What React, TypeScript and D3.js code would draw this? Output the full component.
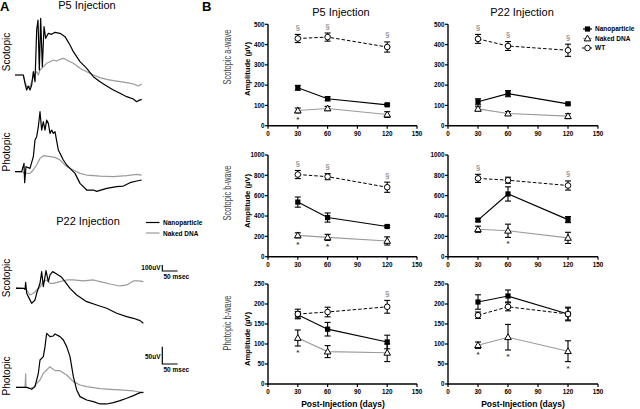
import React from "react";
import * as d3 from "d3";

const FONT = "Arial, 'Liberation Sans', Helvetica, sans-serif";
const GREY = "#9a9a9a";

// ---------- Panel B data ----------
const days = [30, 60, 120];
const xTicks = [0, 30, 60, 90, 120, 150];
const yTicksA = [0, 100, 200, 300, 400, 500];
const yTicksB = [0, 200, 400, 600, 800, 1000];
const yTicksP = [0, 50, 100, 150, 200, 250];

// P5 scotopic a-wave
const p5aNano = [187, 133, 103];
const p5aNanoErr = [12, 10, 5];
const p5aNaked = [75, 85, 55];
const p5aNakedErr = [12, 10, 14];
const p5aWT = [430, 437, 388];
const p5aWTErr = [20, 20, 25];
const p5aSect = [1, 1, 1];
const p5aStar = [1, 0, 0];

// P22 scotopic a-wave
const p22aNano = [118, 158, 108];
const p22aNanoErr = [15, 15, 5];
const p22aNaked = [83, 60, 47];
const p22aNakedErr = [10, 10, 12];
const p22aWT = [428, 393, 372];
const p22aWTErr = [22, 22, 30];
const p22aSect = [1, 1, 1];
const p22aStar = [0, 0, 0];

// P5 scotopic b-wave
const p5bNano = [537, 385, 297];
const p5bNanoErr = [50, 45, 10];
const p5bNaked = [210, 190, 155];
const p5bNakedErr = [25, 30, 40];
const p5bWT = [808, 787, 683];
const p5bWTErr = [40, 30, 50];
const p5bSect = [1, 1, 1];
const p5bStar = [1, 1, 0];

// P22 scotopic b-wave
const p22bNano = [360, 617, 365];
const p22bNanoErr = [15, 70, 30];
const p22bNaked = [270, 255, 185];
const p22bNakedErr = [30, 65, 55];
const p22bWT = [770, 752, 700];
const p22bWTErr = [40, 30, 45];
const p22bSect = [1, 0, 1];
const p22bStar = [0, 1, 0];

// P5 photopic b-wave
const p5pNano = [173, 137, 105];
const p5pNanoErr = [8, 17, 17];
const p5pNaked = [115, 81, 78];
const p5pNakedErr = [20, 15, 22];
const p5pWT = [175, 180, 193];
const p5pWTErr = [12, 12, 16];
const p5pSect = [0, 0, 1];
const p5pStar = [1, 0, 0];

// P22 photopic b-wave
const p22pNano = [205, 220, 175];
const p22pNanoErr = [18, 15, 17];
const p22pNaked = [97, 117, 82];
const p22pNakedErr = [8, 32, 26];
const p22pWT = [172, 193, 175];
const p22pWTErr = [8, 10, 15];
const p22pSect = [0, 0, 0];
const p22pStar = [1, 1, 1];

// ---------- Panel A traces: [sample, amplitude] ----------
const p5ScotNano = [[0,0],[25,0],[30,-25],[35,-45],[40,-33],[45,-45],[50,-30],[55,10],[60,-20],[65,135],[69,165],[73,15],[77,170],[82,25],[87,145],[92,110],[100,125],[110,122],[120,128],[135,125],[150,115],[165,90],[175,70],[195,40],[215,20],[235,-5],[255,-20],[275,-33],[295,-45],[315,-55],[335,-65],[355,-72],[365,-80],[372,-76],[380,-73]];
const p5ScotNaked = [[0,0],[25,0],[30,-20],[35,-35],[45,-35],[55,-5],[60,5],[65,10],[70,0],[75,15],[85,25],[95,35],[105,40],[115,45],[125,42],[135,47],[145,50],[155,45],[165,40],[175,35],[185,28],[195,20],[215,10],[235,0],[255,-8],[275,-13],[295,-17],[315,-20],[335,-23],[355,-27],[370,-33],[380,-27]];
const p5PhotNano = [[0,0],[20,0],[27,25],[29,-33],[33,15],[45,10],[55,45],[60,95],[65,105],[70,135],[75,180],[80,125],[85,150],[90,125],[95,155],[100,145],[105,115],[110,125],[115,115],[120,120],[130,65],[145,35],[155,20],[165,10],[180,-5],[195,-35],[215,-55],[235,-55],[245,-59],[275,-50],[305,-45],[325,-43],[345,-33],[365,-28],[380,-25]];
const p5PhotNaked = [[0,0],[20,0],[30,-5],[45,-5],[55,5],[65,20],[75,40],[85,48],[105,45],[120,43],[135,35],[155,15],[175,5],[195,-5],[215,-10],[255,-13],[295,-15],[335,-12],[365,-8],[380,-10]];
const p22ScotNano = [[0,0],[22,0],[27,-3],[29,18],[32,-15],[37,-25],[47,-45],[57,-35],[62,-15],[72,15],[77,50],[82,5],[90,53],[97,20],[102,40],[110,50],[122,43],[137,33],[147,20],[162,0],[182,-20],[212,-40],[242,-50],[272,-60],[302,-75],[332,-85],[352,-90],[372,-97],[382,-105]];
const p22ScotNaked = [[0,3],[22,0],[32,-5],[42,-20],[52,-15],[62,-5],[72,3],[82,20],[92,25],[102,15],[112,15],[132,20],[152,25],[172,25],[202,22],[232,25],[252,20],[282,13],[312,7],[332,10],[352,22],[367,22],[382,20]];
const p22PhotNano = [[0,0],[32,0],[47,-6],[57,2],[67,42],[72,82],[82,92],[87,122],[92,162],[102,152],[112,154],[117,160],[132,152],[142,142],[152,122],[162,92],[172,32],[182,-8],[192,-28],[212,-38],[232,-43],[252,-50],[272,-50],[292,-46],[312,-40],[332,-33],[352,-25],[372,-16],[382,-15]];
const p22PhotNaked = [[0,0],[27,0],[28,17],[29,40],[30,0],[42,-3],[52,0],[62,12],[72,22],[82,42],[92,52],[102,62],[107,57],[117,50],[132,50],[152,37],[172,17],[192,7],[212,2],[232,-1],[252,-4],[282,-6],[312,-8],[352,-11],[382,-16]];

type PanelProps = {
  x0: number; x1: number; yBase: number; yTop: number; yMax: number; yTicks: number[];
  nano: number[]; nanoErr: number[]; naked: number[]; nakedErr: number[];
  wt: number[]; wtErr: number[]; sect: number[]; star: number[];
};

function ErrBars({ x, y, vals, errs }: any) {
  return (
    <g stroke="#000" strokeWidth={1.1}>
      {vals.map((v: number, i: number) => {
        const X = x(days[i]);
        const t = y(v + errs[i]);
        const b = y(v - errs[i]);
        return (
          <g key={i}>
            <line x1={X} x2={X} y1={t} y2={b} />
            <line x1={X - 3} x2={X + 3} y1={t} y2={t} />
            <line x1={X - 3} x2={X + 3} y1={b} y2={b} />
          </g>
        );
      })}
    </g>
  );
}

function Square({ cx, cy }: any) {
  return <rect x={cx - 2.6} y={cy - 2.6} width={5.2} height={5.2} fill="#000" />;
}
function Tri({ cx, cy }: any) {
  return <path d={`M${cx},${cy - 3.4}L${cx + 3.3},${cy + 2.4}L${cx - 3.3},${cy + 2.4}Z`} fill="#fff" stroke="#000" strokeWidth={1} />;
}
function Circ({ cx, cy }: any) {
  return <circle cx={cx} cy={cy} r={2.8} fill="#fff" stroke="#000" strokeWidth={1} />;
}

function Panel(p: PanelProps) {
  const x = d3.scaleLinear().domain([0, 150]).range([p.x0, p.x1]);
  const y = d3.scaleLinear().domain([0, p.yMax]).range([p.yBase, p.yTop]);
  const line = d3.line<number>().x((_, i) => x(days[i])).y((d) => y(d));
  return (
    <g fontFamily={FONT}>
      <line x1={p.x0} x2={p.x0} y1={p.yBase + 0.6} y2={p.yTop} stroke="#000" strokeWidth={1.4} />
      <line x1={p.x0 - 0.6} x2={p.x1} y1={p.yBase} y2={p.yBase} stroke="#000" strokeWidth={1.4} />
      {p.yTicks.map((t) => (
        <g key={t}>
          <line x1={p.x0 - 3} x2={p.x0} y1={y(t)} y2={y(t)} stroke="#000" strokeWidth={1.2} />
          <text x={p.x0 - 3.5} y={y(t) + 2.3} fontSize={6.3} fontWeight="bold" textAnchor="end">{t}</text>
        </g>
      ))}
      {xTicks.map((t) => (
        <g key={t}>
          <line x1={x(t)} x2={x(t)} y1={p.yBase} y2={p.yBase + 3} stroke="#000" strokeWidth={1.2} />
          <text x={x(t)} y={p.yBase + 10} fontSize={6.3} fontWeight="bold" textAnchor="middle">{t}</text>
        </g>
      ))}
      <path d={line(p.naked) || ""} fill="none" stroke={GREY} strokeWidth={1.1} />
      <path d={line(p.nano) || ""} fill="none" stroke="#000" strokeWidth={1.2} />
      <path d={line(p.wt) || ""} fill="none" stroke="#000" strokeWidth={1} strokeDasharray="3.5,2" />
      <ErrBars x={x} y={y} vals={p.naked} errs={p.nakedErr} />
      <ErrBars x={x} y={y} vals={p.nano} errs={p.nanoErr} />
      <ErrBars x={x} y={y} vals={p.wt} errs={p.wtErr} />
      {p.naked.map((v, i) => <Tri key={"t" + i} cx={x(days[i])} cy={y(v)} />)}
      {p.nano.map((v, i) => <Square key={"s" + i} cx={x(days[i])} cy={y(v)} />)}
      {p.wt.map((v, i) => <Circ key={"c" + i} cx={x(days[i])} cy={y(v)} />)}
      {p.sect.map((s, i) => s ? (
        <text key={"g" + i} x={x(days[i])} y={y(p.wt[i] + p.wtErr[i]) - 4.5} fontSize={8} fill="#777" textAnchor="middle">§</text>
      ) : null)}
      {p.star.map((s, i) => s ? (
        <text key={"a" + i} x={x(days[i])} y={y(p.naked[i] - p.nakedErr[i]) + 9} fontSize={8} fontWeight="bold" fill="#444" textAnchor="middle">*</text>
      ) : null)}
    </g>
  );
}

function Trace({ data, x0, base, color }: any) {
  const x = d3.scaleLinear().domain([0, 380]).range([x0, x0 + 126.7]);
  const y = d3.scaleLinear().domain([0, 300]).range([base, base - 100]);
  const gen = d3.line<number[]>().x((d) => x(d[0])).y((d) => y(d[1]));
  return <path d={gen(data) || ""} fill="none" stroke={color} strokeWidth={1.2} strokeLinejoin="round" />;
}

function RowLabel({ cx, cy, title }: any) {
  return (
    <text transform={`translate(${cx},${cy}) rotate(-90)`} fontFamily={FONT} fontSize={10.5} fill="#444" textAnchor="middle" textLength={55} lengthAdjust="spacingAndGlyphs">{title}</text>
  );
}
function AmpLabel({ cx, cy }: any) {
  return (
    <text transform={`translate(${cx},${cy}) rotate(-90)`} fontFamily={FONT} fontSize={8} fontWeight="bold" textAnchor="middle" textLength={54} lengthAdjust="spacingAndGlyphs">Amplitude (µV)</text>
  );
}

export default function App() {
  const scotBar = 18; // trace units for 100 uV
  const photBar = 52; // trace units for 50 uV
  const msBar = 46;   // trace samples for 50 msec
  const sx = d3.scaleLinear().domain([0, 380]).range([0, 126.7]);
  const sy = d3.scaleLinear().domain([0, 300]).range([0, 100]);
  const cols = [
    { x0: 268, x1: 417 },
    { x0: 448, x1: 598 },
  ];
  const rows = [
    { yBase: 125.7, yTop: 24.3, yMax: 500, yTicks: yTicksA },
    { yBase: 256.7, yTop: 155, yMax: 1000, yTicks: yTicksB },
    { yBase: 384, yTop: 284, yMax: 250, yTicks: yTicksP },
  ];
  return (
    <svg width={640} height={409} style={{ position: "absolute", left: 0, top: 0, background: "#fff" }}>
      <rect width={640} height={409} fill="#fff" />
      {/* ---------- Panel A ---------- */}
      <g fontFamily={FONT}>
        <text x={0} y={11} fontSize={13} fontWeight="bold">A</text>
        <text x={87} y={9} fontSize={11} textAnchor="middle">P5 Injection</text>
        <text x={88} y={225} fontSize={11} textAnchor="middle">P22 Injection</text>
        <text transform="translate(9.5,52) rotate(-90)" fontSize={10} textAnchor="middle">Scotopic</text>
        <text transform="translate(9.5,152) rotate(-90)" fontSize={10} textAnchor="middle">Photopic</text>
        <text transform="translate(9.5,278) rotate(-90)" fontSize={10} textAnchor="middle">Scotopic</text>
        <text transform="translate(9.5,376) rotate(-90)" fontSize={10} textAnchor="middle">Photopic</text>
        <line x1={146} x2={159.5} y1={222.5} y2={222.5} stroke="#000" strokeWidth={1.2} />
        <line x1={146} x2={159.5} y1={233} y2={233} stroke={GREY} strokeWidth={1.2} />
        <text x={163} y={225} fontSize={6.5} fontWeight="bold">Nanoparticle</text>
        <text x={163} y={235.5} fontSize={6.5} fontWeight="bold">Naked DNA</text>
        <path d={`M162.3,${271 - sy(scotBar)}V271H${162.3 + sx(msBar)}`} fill="none" stroke="#000" strokeWidth={1.2} />
        <text x={160.5} y={270} fontSize={6.5} fontWeight="bold" textAnchor="end">100uV</text>
        <text x={163.5} y={279} fontSize={6.5} fontWeight="bold">50 msec</text>
        <path d={`M162.3,${364 - sy(photBar)}V364H${162.3 + sx(msBar)}`} fill="none" stroke="#000" strokeWidth={1.2} />
        <text x={160.5} y={358.5} fontSize={6.5} fontWeight="bold" textAnchor="end">50uV</text>
        <text x={163.5} y={371.5} fontSize={6.5} fontWeight="bold">50 msec</text>
      </g>
      <Trace data={p5ScotNaked} x0={15} base={75} color={GREY} />
      <Trace data={p5ScotNano} x0={15} base={75} color="#000" />
      <Trace data={p5PhotNaked} x0={15} base={171.7} color={GREY} />
      <Trace data={p5PhotNano} x0={15} base={171.7} color="#000" />
      <Trace data={p22ScotNaked} x0={16} base={288.3} color={GREY} />
      <Trace data={p22ScotNano} x0={16} base={288.3} color="#000" />
      <Trace data={p22PhotNaked} x0={16} base={387.3} color={GREY} />
      <Trace data={p22PhotNano} x0={16} base={387.3} color="#000" />

      {/* ---------- Panel B ---------- */}
      <g fontFamily={FONT}>
        <text x={202} y={11} fontSize={13} fontWeight="bold">B</text>
        <text x={341} y={16} fontSize={11} textAnchor="middle">P5 Injection</text>
        <text x={522} y={16} fontSize={11} textAnchor="middle">P22 Injection</text>
        <text x={343} y={407} fontSize={8.5} fontWeight="bold" textAnchor="middle">Post-Injection (days)</text>
        <text x={523} y={407} fontSize={8.5} fontWeight="bold" textAnchor="middle">Post-Injection (days)</text>
      </g>
      <RowLabel cx={231} cy={57} title="Scotopic a-wave" />
      <RowLabel cx={231} cy={193} title="Scotopic b-wave" />
      <RowLabel cx={231} cy={323} title="Photopic b-wave" />
      <AmpLabel cx={250} cy={69} />
      <AmpLabel cx={250} cy={201} />
      <AmpLabel cx={250} cy={339} />

      <Panel {...cols[0]} {...rows[0]} nano={p5aNano} nanoErr={p5aNanoErr} naked={p5aNaked} nakedErr={p5aNakedErr} wt={p5aWT} wtErr={p5aWTErr} sect={p5aSect} star={p5aStar} />
      <Panel {...cols[1]} {...rows[0]} nano={p22aNano} nanoErr={p22aNanoErr} naked={p22aNaked} nakedErr={p22aNakedErr} wt={p22aWT} wtErr={p22aWTErr} sect={p22aSect} star={p22aStar} />
      <Panel {...cols[0]} {...rows[1]} nano={p5bNano} nanoErr={p5bNanoErr} naked={p5bNaked} nakedErr={p5bNakedErr} wt={p5bWT} wtErr={p5bWTErr} sect={p5bSect} star={p5bStar} />
      <Panel {...cols[1]} {...rows[1]} nano={p22bNano} nanoErr={p22bNanoErr} naked={p22bNaked} nakedErr={p22bNakedErr} wt={p22bWT} wtErr={p22bWTErr} sect={p22bSect} star={p22bStar} />
      <Panel {...cols[0]} {...rows[2]} nano={p5pNano} nanoErr={p5pNanoErr} naked={p5pNaked} nakedErr={p5pNakedErr} wt={p5pWT} wtErr={p5pWTErr} sect={p5pSect} star={p5pStar} />
      <Panel {...cols[1]} {...rows[2]} nano={p22pNano} nanoErr={p22pNanoErr} naked={p22pNaked} nakedErr={p22pNakedErr} wt={p22pWT} wtErr={p22pWTErr} sect={p22pSect} star={p22pStar} />

      <g fontFamily={FONT}>
        <line x1={583} x2={592} y1={29} y2={29} stroke="#000" strokeWidth={1.2} />
        <Square cx={587.5} cy={29} />
        <line x1={583} x2={592} y1={38.5} y2={38.5} stroke={GREY} strokeWidth={1.1} />
        <Tri cx={587.5} cy={38.5} />
        <line x1={582} x2={593} y1={48} y2={48} stroke="#000" strokeWidth={1} strokeDasharray="2,2" />
        <Circ cx={587.5} cy={48} />
        <text x={595} y={31.3} fontSize={6.5} fontWeight="bold">Nanoparticle</text>
        <text x={595} y={40.8} fontSize={6.5} fontWeight="bold">Naked DNA</text>
        <text x={595} y={50.3} fontSize={6.5} fontWeight="bold">WT</text>
      </g>
    </svg>
  );
}
